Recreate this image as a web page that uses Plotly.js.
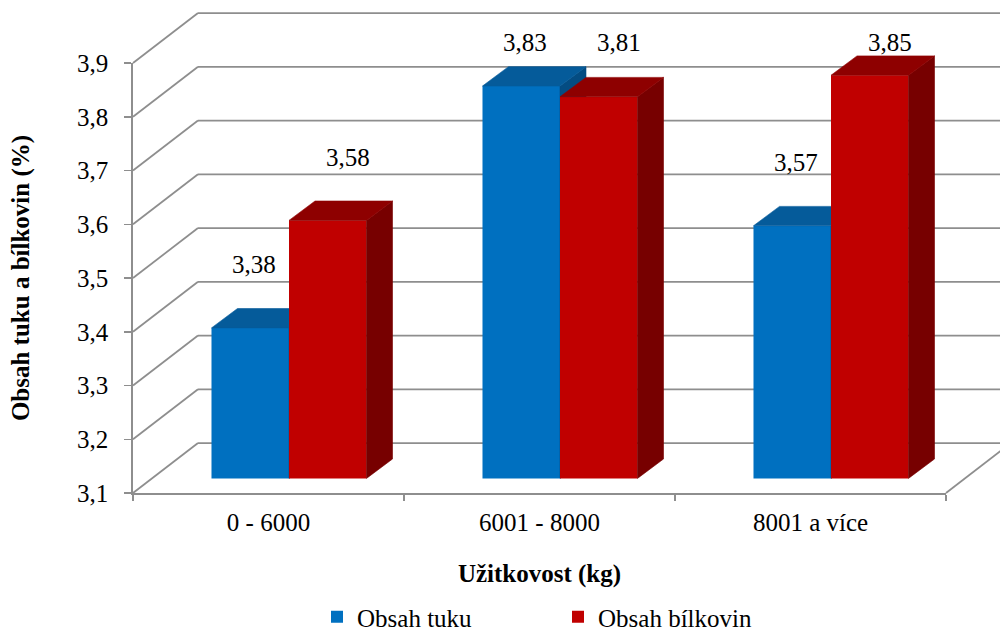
<!DOCTYPE html>
<html>
<head>
<meta charset="utf-8">
<script src="https://cdn.plot.ly/plotly-3.0.1.min.js"></script>
<style>
  html, body { margin: 0; padding: 0; background: #ffffff; }
  #chart { width: 1000px; height: 630px; }
</style>
</head>
<body>
<div id="chart"></div>
<script>
// ---- data ----
const categories = ['0 - 6000', '6001 - 8000', '8001 a více'];
const fatValues = [3.38, 3.83, 3.57];       // Obsah tuku
const proteinValues = [3.58, 3.81, 3.85];   // Obsah bílkovin
const seriesNames = ['Obsah tuku', 'Obsah bílkovin'];
const yTickValues = [3.1, 3.2, 3.3, 3.4, 3.5, 3.6, 3.7, 3.8, 3.9];

// ---- geometry of the pseudo-3D box ----
const W = 1000, H = 630;
const M = { l: 133, r: 54, t: 10, b: 137 };
const plotW = W - M.l - M.r;
const plotH = H - M.t - M.b;
const yMin = 3.1, yMax = 3.9;
const axisH = 430;                              // pixel height of the value axis
const pxPerUnit = axisH / (yMax - yMin);
const pxPerCat = plotW / categories.length;

const wallDX = 65, wallDY = 50;                 // floor/back wall depth
const planeDX = 20.5, planeDY = 14.6;           // bar front plane inside the box
const barDX = 26, barDY = 19.4;                 // bar depth
const barW = 0.286;                             // bar width, category units

const gridColor = '#8e8e8e';
const font = 'Liberation Serif';

const x2Shift = planeDX / pxPerCat;
const y2Bottom = yMin - planeDY / pxPerUnit;
const y2Top = y2Bottom + plotH / pxPerUnit;
const idx = categories.map((c, i) => i);

const series = [
  { name: seriesNames[0], values: fatValues, offset: -barW, xa: 'x2', ya: 'y2',
    front: '#0070C0', top: '#055B9A', side: '#044C82', labelShift: 4 },
  { name: seriesNames[1], values: proteinValues, offset: 0, xa: 'x3', ya: 'y3',
    front: '#C00000', top: '#8E0000', side: '#770000', labelShift: 20 }
];

function faces(s) {
  const dx = barDX / pxPerCat, dy = barDY / pxPerUnit;
  const top = { x: [], y: [] }, side = { x: [], y: [] };
  s.values.forEach((v, i) => {
    const xl = idx[i] + s.offset, xr = xl + barW;
    top.x.push(xl, xr, xr + dx, xl + dx, xl, null);
    top.y.push(v, v, v + dy, v + dy, v, null);
    side.x.push(xr, xr, xr + dx, xr + dx, xr, null);
    side.y.push(yMin, v, v + dy, yMin + dy, yMin, null);
  });
  return { top, side };
}

// the category/value axes carry no marks of their own
const traces = [{
  type: 'scatter', mode: 'none', x: idx, y: idx.map(() => null),
  xaxis: 'x', yaxis: 'y', showlegend: false, hoverinfo: 'skip'
}];

series.forEach(s => {
  traces.push({
    type: 'bar', name: s.name, x: idx, y: s.values.map(v => v - yMin), base: yMin,
    width: barW, offset: s.offset, xaxis: s.xa, yaxis: s.ya,
    marker: { color: s.front, line: { width: 0 } },
    customdata: s.values, hovertemplate: '%{customdata}<extra>' + s.name + '</extra>'
  });
  const f = faces(s);
  [['side', f.side], ['top', f.top]].forEach(([k, p]) => {
    traces.push({
      type: 'scatter', mode: 'lines', x: p.x, y: p.y, fill: 'toself',
      fillcolor: s[k], line: { color: s[k], width: 0.6 },
      xaxis: s.xa, yaxis: s.ya, showlegend: false, hoverinfo: 'skip'
    });
  });
});

// back wall, left wall and floor lines
const shapes = [];
const line = { color: gridColor, width: 1.75 };
yTickValues.forEach(v => {
  const f = (v - yMin) / (yMax - yMin);
  shapes.push({ type: 'line', layer: 'below', xref: 'paper', yref: 'y domain',
    xsizemode: 'pixel', ysizemode: 'pixel', xanchor: 0, yanchor: f,
    x0: 0, y0: 0, x1: wallDX, y1: wallDY, line });
  shapes.push({ type: 'line', layer: 'below', xref: 'paper', yref: 'y domain',
    xsizemode: 'pixel', ysizemode: 'pixel', xanchor: 0, yanchor: f,
    x0: wallDX, y0: wallDY, x1: plotW + wallDX, y1: wallDY, line });
});
shapes.push({ type: 'line', layer: 'below', xref: 'paper', yref: 'y domain',
  xsizemode: 'pixel', ysizemode: 'pixel', xanchor: 1, yanchor: 0,
  x0: 0, y0: 0, x1: wallDX, y1: wallDY, line });

// value labels, lifted above the bar but kept inside the chart
const labelLift = 63, labelTopPx = 42;
const labelCap = y2Bottom + (M.t + plotH - labelTopPx) / pxPerUnit;
const annotations = [];
series.forEach(s => {
  s.values.forEach((v, i) => {
    annotations.push({
      xref: s.xa, yref: s.ya, x: idx[i] + s.offset + barW / 2, y: v,
      text: v.toFixed(2).replace('.', ','), showarrow: false,
      xshift: s.labelShift, yshift: Math.min(labelLift, (labelCap - v) * pxPerUnit),
      yanchor: 'middle', font: { family: font, size: 25, color: '#000' }
    });
  });
});

const boundaries = idx.map(i => i - 0.5).concat(categories.length - 0.5);
const hidden = { visible: false, showgrid: false, zeroline: false, fixedrange: true };

const layout = {
  width: W, height: H,
  margin: M,
  paper_bgcolor: '#ffffff', plot_bgcolor: 'rgba(0,0,0,0)',
  separators: ', ',
  font: { family: font, size: 25, color: '#000' },
  showlegend: true,
  legend: {
    orientation: 'h', xref: 'container', yref: 'container',
    x: 0.317, xanchor: 'left', y: 36 / H, yanchor: 'top',
    entrywidth: 196, font: { family: font, size: 25, color: '#000' },
    traceorder: 'normal'
  },
  xaxis: {
    visible: true,
    domain: [0, 1], range: [-0.5, categories.length - 0.5],
    tickmode: 'array', tickvals: idx, ticktext: categories, ticks: '',
    ticklabelstandoff: 6,
    minor: { tickmode: 'array', tickvals: boundaries, ticks: 'outside', ticklen: 6,
             tickwidth: 1.5, tickcolor: gridColor, showgrid: false },
    showline: true, linecolor: gridColor, linewidth: 1.75,
    showgrid: false, zeroline: false, fixedrange: true,
    tickfont: { family: font, size: 25, color: '#000' },
    title: { text: 'Užitkovost (kg)', standoff: 30,
             font: { family: font, size: 25, color: '#000', weight: 'bold' } },
    anchor: 'y'
  },
  yaxis: {
    visible: true,
    domain: [0, axisH / plotH], range: [yMin, yMax],
    tickmode: 'array', tickvals: yTickValues, tickformat: '.1f',
    ticks: 'outside', ticklen: 7, tickwidth: 1.5, tickcolor: gridColor,
    ticklabelstandoff: 11,
    showline: true, linecolor: gridColor, linewidth: 1.75,
    showgrid: false, zeroline: false, fixedrange: true,
    tickfont: { family: font, size: 25, color: '#000' },
    title: { text: 'Obsah tuku a bílkovin (%)', standoff: 40,
             font: { family: font, size: 25, color: '#000', weight: 'bold' } },
    anchor: 'x'
  },
  xaxis2: Object.assign({}, hidden, { domain: [0, 1], anchor: 'y2',
    range: [-0.5 - x2Shift, categories.length - 0.5 - x2Shift] }),
  yaxis2: Object.assign({}, hidden, { domain: [0, 1], anchor: 'x2', range: [y2Bottom, y2Top] }),
  xaxis3: Object.assign({}, hidden, { overlaying: 'x2', anchor: 'y3',
    range: [-0.5 - x2Shift, categories.length - 0.5 - x2Shift] }),
  yaxis3: Object.assign({}, hidden, { overlaying: 'y2', anchor: 'x3', range: [y2Bottom, y2Top] }),
  shapes, annotations
};

Plotly.newPlot('chart', traces, layout, { displayModeBar: false, staticPlot: true });
</script>
</body>
</html>
